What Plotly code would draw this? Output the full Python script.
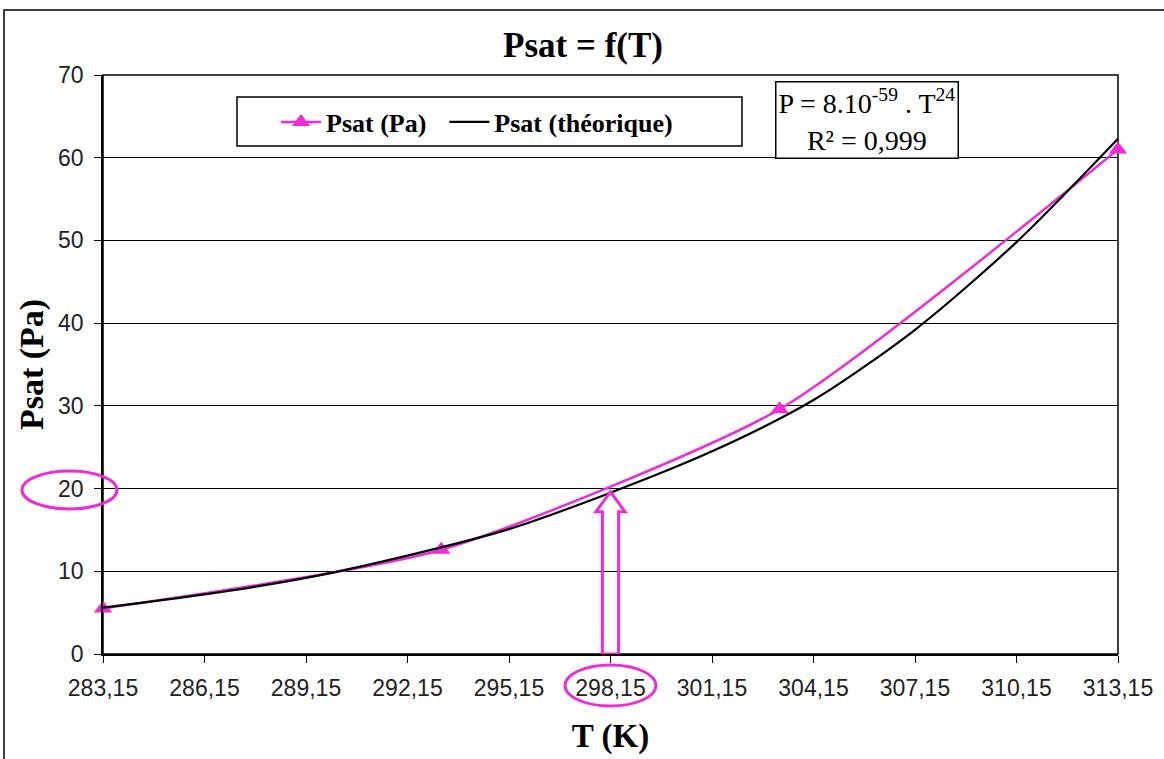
import plotly.graph_objects as go

# Measured saturation pressure (Pa) against temperature (K)
T_meas = [283.15, 293.15, 303.15, 313.15]
P_meas = [5.5, 12.6, 29.6, 61.0]

# Theoretical curve P = 8.10^-59 . T^24, sampled at the axis ticks
T_theo = [283.15, 286.15, 289.15, 292.15, 295.15, 298.15, 301.15, 304.15, 307.15, 310.15, 313.15]
P_theo = [5.6, 7.2, 9.2, 11.9, 15.1, 19.5, 24.5, 30.7, 39.2, 49.8, 62.3]

x_ticks = [283.15, 286.15, 289.15, 292.15, 295.15, 298.15, 301.15, 304.15, 307.15, 310.15, 313.15]
x_tick_text = ["283,15", "286,15", "289,15", "292,15", "295,15", "298,15",
               "301,15", "304,15", "307,15", "310,15", "313,15"]
y_ticks = [0, 10, 20, 30, 40, 50, 60, 70]

T_mark = 298.15   # temperature pointed at by the arrow

MAGENTA = "#ee2bd6"
SERIF = "Liberation Serif"
SANS = "Liberation Sans"
NBSP = "\u00a0"

fig = go.Figure()
fig.add_trace(go.Scatter(
    x=T_meas, y=P_meas, name="<b>Psat (Pa)</b>" + NBSP * 2, mode="lines+markers",
    line=dict(color=MAGENTA, width=2.5, shape="spline", smoothing=0.6),
    marker=dict(symbol="triangle-up", size=16, color=MAGENTA),
    cliponaxis=False,
))
fig.add_trace(go.Scatter(
    x=T_theo, y=P_theo, name="<b>Psat (théorique)</b>", mode="lines",
    line=dict(color="black", width=2.2, shape="spline", smoothing=0.8),
))

L, R, TOP, B = 103, 46, 75, 105
W, H = 1164, 759
pw, ph = W - L - R, H - TOP - B


def px(x):
    return (x - L) / pw


def py(y):
    return (H - B - y) / ph


shapes = []
# outer frame of the figure
shapes.append(dict(type="rect", xref="paper", yref="paper",
                   x0=px(4), x1=px(1200), y0=py(800), y1=py(10),
                   line=dict(color="black", width=1.5), layer="above"))
# plot frame (top and right)
shapes.append(dict(type="rect", xref="paper", yref="paper", x0=0, x1=1, y0=0, y1=1,
                   line=dict(color="black", width=1.5), layer="below"))
# legend box
shapes.append(dict(type="rect", xref="paper", yref="paper",
                   x0=px(237), x1=px(742), y0=py(146), y1=py(97),
                   line=dict(color="black", width=1.5), fillcolor="white", layer="below"))
# ellipse around the y tick label
shapes.append(dict(type="circle", xref="paper", yref="paper",
                   x0=px(22), x1=px(117), y0=py(509), y1=py(471),
                   line=dict(color=MAGENTA, width=3)))
# ellipse around the x tick label
shapes.append(dict(type="circle", xref="paper", yref="paper",
                   x0=px(565), x1=px(656), y0=py(706), y1=py(665),
                   line=dict(color=MAGENTA, width=3)))
# hollow arrow from the x axis up to the curve
sw, hw = 0.24, 0.43
tip, base = 19.6, 17.2
path = (f"M {T_mark - sw},0 L {T_mark - sw},{base} L {T_mark - hw},{base} "
        f"L {T_mark},{tip} L {T_mark + hw},{base} L {T_mark + sw},{base} "
        f"L {T_mark + sw},0 Z")
shapes.append(dict(type="path", xref="x", yref="y", path=path,
                   line=dict(color=MAGENTA, width=3), fillcolor="rgba(0,0,0,0)"))

fig.update_layout(
    width=W, height=H,
    margin=dict(l=L, r=R, t=TOP, b=B),
    paper_bgcolor="white", plot_bgcolor="white",
    title=dict(text="<b>Psat = f(T)</b>", x=583 / W, xanchor="center",
               y=1 - 45 / H, yanchor="middle",
               font=dict(family=SERIF, size=35, color="black")),
    xaxis=dict(range=[283.15, 313.15], tickvals=x_ticks, ticktext=x_tick_text,
               showgrid=False, zeroline=False, showline=True, linecolor="black", linewidth=1.5,
               ticks="outside", ticklen=7, tickcolor="black", ticklabelstandoff=6,
               tickfont=dict(family=SANS, size=23, color="#222"),
               title=dict(text="<b>T (K)</b>", font=dict(family=SERIF, size=33, color="black"),
                          standoff=24)),
    yaxis=dict(range=[0, 70], tickvals=y_ticks, showgrid=True, gridcolor="black", gridwidth=1.2,
               zeroline=False, showline=True, linecolor="black", linewidth=1.5,
               ticks="outside", ticklen=7, tickcolor="black", ticklabelstandoff=6,
               tickfont=dict(family=SANS, size=23, color="#222"),
               title=dict(text="<b>Psat (Pa)</b>", font=dict(family=SERIF, size=34, color="black"),
                          standoff=4)),
    legend=dict(orientation="h", x=px(276), y=py(122), xanchor="left", yanchor="middle",
                bgcolor="rgba(0,0,0,0)", borderwidth=0,
                font=dict(family=SERIF, size=26, color="black"),
                itemwidth=40),
    shapes=shapes,
    annotations=[dict(
        xref="paper", yref="paper", x=px(867), y=py(120), xanchor="center", yanchor="middle",
        text="P = 8.10<sup>-59</sup> . T<sup>24</sup><br>R² = 0,999", showarrow=False,
        align="center", font=dict(family=SERIF, size=28, color="black"),
        bordercolor="black", borderwidth=1.5, bgcolor="white", borderpad=2,
    )],
)

fig.write_html("out.html")
